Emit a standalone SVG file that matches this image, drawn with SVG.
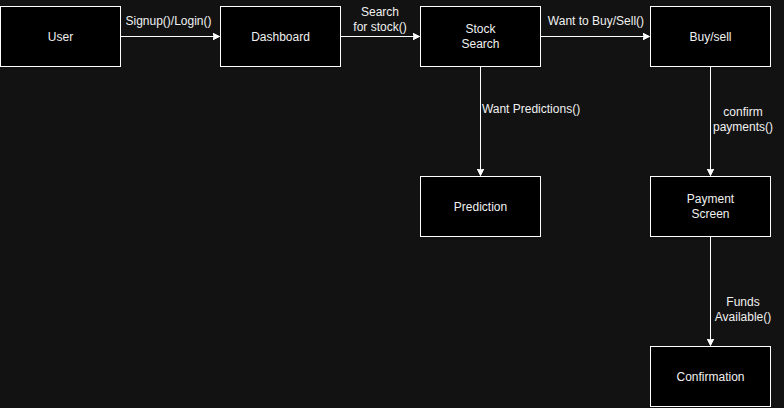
<svg xmlns="http://www.w3.org/2000/svg" width="784" height="408" viewBox="0 0 784 408">
<style>
.n rect{fill:#000;stroke:#fff;stroke-width:1}
text{font-family:"Liberation Sans",Arial,Helvetica,sans-serif;font-size:12px;fill:#f0f0f0;text-anchor:middle}
.e path{fill:none;stroke:#fff;stroke-width:1}
</style>
<defs>
<marker id="a" markerWidth="10" markerHeight="10" refX="7" refY="3.5" orient="auto" markerUnits="userSpaceOnUse">
<path d="M0,0 L7,3.5 L0,7 L1.8,3.5 Z" fill="#fff" stroke="#fff" stroke-width="1"/>
</marker>
</defs>
<rect width="784" height="408" fill="#121212"/>
<g id="connectors" class="e">
<path d="M120.5,36.5 H219.5" marker-end="url(#a)"/>
<path d="M340.5,36.5 H419.5" marker-end="url(#a)"/>
<path d="M540.5,36.5 H649.5" marker-end="url(#a)"/>
<path d="M480.5,66.5 V175.5" marker-end="url(#a)"/>
<path d="M710.5,66.5 V175.5" marker-end="url(#a)"/>
<path d="M710.5,236.5 V345.5" marker-end="url(#a)"/>
<g class="labels">
<text x="168.5" y="25">Signup()/Login()</text>
<text x="380" y="16">Search</text>
<text x="380" y="31">for stock()</text>
<text x="596" y="25">Want to Buy/Sell()</text>
<text x="531" y="113">Want Predictions()</text>
<text x="743" y="116">confirm</text>
<text x="743" y="131">payments()</text>
<text x="743" y="306">Funds</text>
<text x="743" y="321">Available()</text>
</g>
</g>
<g id="user" class="n"><rect x="0.5" y="6.5" width="120" height="60"/><text x="60.5" y="40.5">User</text></g>
<g id="dashboard" class="n"><rect x="220.5" y="6.5" width="120" height="60"/><text x="280.5" y="40.5">Dashboard</text></g>
<g id="stock-search" class="n"><rect x="420.5" y="6.5" width="120" height="60"/><text x="480.5" y="33">Stock</text><text x="480.5" y="48">Search</text></g>
<g id="buy-sell" class="n"><rect x="650.5" y="6.5" width="120" height="60"/><text x="710.5" y="40.5">Buy/sell</text></g>
<g id="prediction" class="n"><rect x="420.5" y="176.5" width="120" height="60"/><text x="480.5" y="210.5">Prediction</text></g>
<g id="payment-screen" class="n"><rect x="650.5" y="176.5" width="120" height="60"/><text x="710.5" y="203">Payment</text><text x="710.5" y="218">Screen</text></g>
<g id="confirmation" class="n"><rect x="650.5" y="346.5" width="120" height="60"/><text x="710.5" y="380.5">Confirmation</text></g>
</svg>
